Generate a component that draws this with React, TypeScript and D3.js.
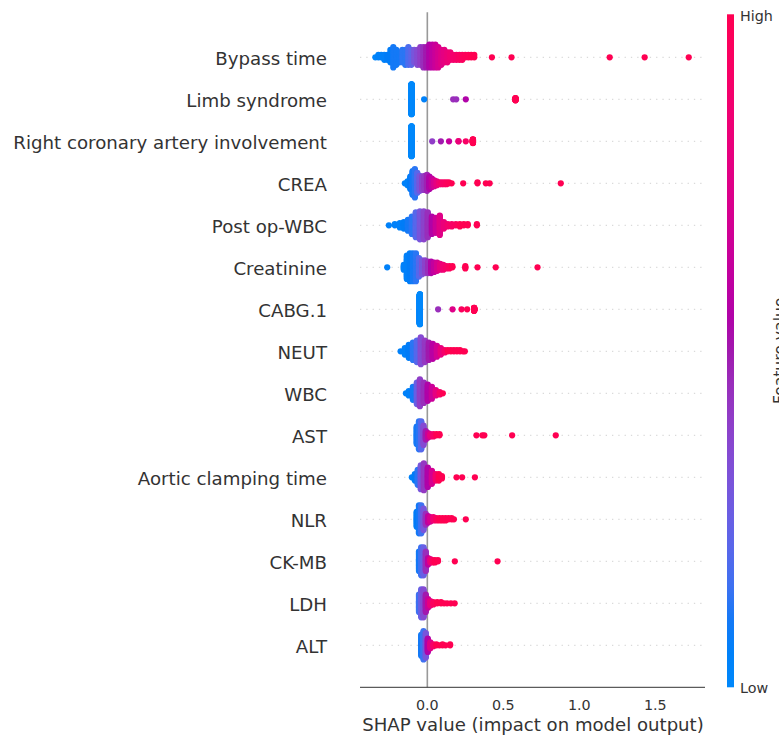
import React from "react";
import * as d3 from "d3";

// Feature names (top to bottom)
const features = [
  "Bypass time",
  "Limb syndrome",
  "Right coronary artery involvement",
  "CREA",
  "Post op-WBC",
  "Creatinine",
  "CABG.1",
  "NEUT",
  "WBC",
  "AST",
  "Aortic clamping time",
  "NLR",
  "CK-MB",
  "LDH",
  "ALT",
];

// Each entry: [SHAP value, number of samples at that value, normalized feature value 0..1]
const bypassTime: [number, number, number][] = [
  [-0.342, 1, 0.02], [-0.322, 2, 0.05], [-0.303, 2, 0.05], [-0.283, 3, 0.05],
  [-0.263, 3, 0.08], [-0.243, 6, 0.08], [-0.224, 9, 0.1], [-0.204, 7, 0.1],
  [-0.184, 5, 0.1], [-0.164, 6, 0.12], [-0.145, 7, 0.12], [-0.125, 8, 0.18],
  [-0.105, 7, 0.22], [-0.086, 6, 0.3], [-0.066, 7, 0.35], [-0.046, 8, 0.4],
  [-0.026, 9, 0.45], [-0.007, 9, 0.5], [0.013, 10, 0.55], [0.033, 10, 0.6],
  [0.053, 10, 0.65], [0.072, 9, 0.7], [0.092, 7, 0.75], [0.112, 6, 0.78],
  [0.132, 5, 0.82], [0.151, 4, 0.85], [0.171, 3, 0.88], [0.191, 3, 0.9],
  [0.211, 3, 0.93], [0.23, 3, 0.95], [0.25, 2, 0.97], [0.27, 2, 0.98],
  [0.289, 2, 1], [0.309, 2, 1], [0.425, 1, 1], [0.554, 1, 1],
  [1.2, 1, 1], [1.43, 1, 1], [1.72, 1, 1],
];
const limbSyndrome: [number, number, number][] = [
  [-0.104, 240, 0.0], [-0.021, 1, 0.05], [0.17, 1, 0.45], [0.19, 1, 0.45],
  [0.253, 1, 0.55], [0.58, 18, 1],
];
const rightCoronary: [number, number, number][] = [
  [-0.104, 230, 0.0], [0.032, 1, 0.4], [0.089, 1, 0.5], [0.143, 1, 0.62],
  [0.205, 2, 0.82], [0.253, 1, 0.92], [0.3, 30, 1],
];
const crea: [number, number, number][] = [
  [-0.148, 1, 0.05], [-0.13, 5, 0.05], [-0.112, 14, 0.08], [-0.097, 26, 0.1],
  [-0.082, 31, 0.12], [-0.066, 22, 0.2], [-0.05, 17, 0.3], [-0.034, 15, 0.38],
  [-0.018, 16, 0.42], [-0.002, 18, 0.48], [0.014, 14, 0.55], [0.03, 10, 0.62],
  [0.046, 7, 0.7], [0.062, 5, 0.78], [0.078, 3, 0.85], [0.094, 3, 0.9],
  [0.11, 3, 0.92], [0.126, 3, 0.95], [0.142, 2, 0.97], [0.16, 1, 1],
  [0.236, 1, 1], [0.33, 2, 1], [0.385, 1, 1], [0.41, 1, 1], [0.878, 1, 1],
];
const postOpWbc: [number, number, number][] = [
  [-0.253, 1, 0.05], [-0.214, 2, 0.05], [-0.181, 5, 0.05], [-0.155, 7, 0.08],
  [-0.128, 11, 0.1], [-0.102, 17, 0.12], [-0.076, 24, 0.2], [-0.049, 27, 0.3],
  [-0.023, 27, 0.38], [0.003, 24, 0.45], [0.03, 17, 0.55], [0.056, 15, 0.65],
  [0.082, 19, 0.75], [0.109, 7, 0.82], [0.135, 3, 0.88], [0.161, 3, 0.92],
  [0.188, 2, 0.95], [0.214, 3, 1], [0.24, 2, 1], [0.266, 2, 1], [0.326, 2, 1],
];
const creatinine: [number, number, number][] = [
  [-0.264, 1, 0.05], [-0.155, 5, 0.05], [-0.135, 21, 0.05], [-0.115, 25, 0.08],
  [-0.095, 25, 0.1], [-0.075, 25, 0.12], [-0.055, 17, 0.2], [-0.035, 13, 0.3],
  [-0.015, 12, 0.38], [0.005, 11, 0.45], [0.025, 11, 0.55], [0.045, 9, 0.62],
  [0.065, 8, 0.7], [0.085, 6, 0.78], [0.105, 5, 0.85], [0.125, 3, 0.9],
  [0.145, 3, 0.95], [0.165, 2, 1], [0.25, 3, 1], [0.33, 1, 1], [0.45, 1, 1],
  [0.725, 1, 1],
];
const cabg1: [number, number, number][] = [
  [-0.049, 230, 0.0], [0.071, 1, 0.45], [0.166, 1, 0.75], [0.225, 1, 0.95],
  [0.262, 1, 1], [0.308, 25, 1],
];
const neut: [number, number, number][] = [
  [-0.176, 1, 0.05], [-0.148, 7, 0.05], [-0.122, 13, 0.08], [-0.095, 17, 0.12],
  [-0.069, 21, 0.2], [-0.043, 26, 0.35], [-0.016, 21, 0.42], [0.01, 17, 0.5],
  [0.036, 15, 0.58], [0.063, 11, 0.68], [0.089, 7, 0.8], [0.115, 3, 0.9],
  [0.135, 2, 1], [0.155, 2, 1], [0.175, 2, 1], [0.195, 2, 1], [0.215, 2, 1],
  [0.235, 1, 1], [0.247, 1, 1],
];
const wbc: [number, number, number][] = [
  [-0.141, 1, 0.05], [-0.122, 5, 0.05], [-0.095, 13, 0.1], [-0.069, 21, 0.25],
  [-0.049, 26, 0.4], [-0.023, 20, 0.45], [0.003, 16, 0.55], [0.03, 12, 0.65],
  [0.056, 6, 0.78], [0.082, 3, 0.9], [0.102, 1, 1],
];
const ast: [number, number, number][] = [
  [-0.07, 17, 0.1], [-0.055, 27, 0.12], [-0.04, 27, 0.2], [-0.025, 19, 0.35],
  [-0.01, 9, 0.5], [0.005, 5, 0.65], [0.02, 3, 0.8], [0.04, 3, 0.9],
  [0.06, 2, 1], [0.08, 2, 1], [0.323, 1, 1], [0.362, 1, 1], [0.375, 1, 1],
  [0.558, 1, 1], [0.845, 1, 1],
];
const aorticClamping: [number, number, number][] = [
  [-0.102, 1, 0.05], [-0.082, 7, 0.08], [-0.063, 15, 0.12], [-0.043, 23, 0.3],
  [-0.023, 26, 0.42], [0.003, 19, 0.55], [0.03, 13, 0.7], [0.056, 7, 0.88],
  [0.076, 7, 1], [0.096, 3, 1], [0.192, 1, 1], [0.229, 1, 1], [0.313, 1, 1],
];
const nlr: [number, number, number][] = [
  [-0.07, 15, 0.08], [-0.055, 27, 0.1], [-0.04, 27, 0.15], [-0.025, 21, 0.3],
  [-0.01, 11, 0.45], [0.005, 7, 0.6], [0.02, 5, 0.7], [0.04, 4, 0.85],
  [0.06, 3, 0.95], [0.08, 3, 1], [0.1, 3, 1], [0.12, 3, 1], [0.14, 2, 1],
  [0.16, 2, 1], [0.175, 1, 1], [0.253, 1, 1],
];
const ckmb: [number, number, number][] = [
  [-0.055, 19, 0.1], [-0.04, 27, 0.15], [-0.025, 27, 0.25], [-0.01, 19, 0.45],
  [0.005, 7, 0.6], [0.02, 4, 0.8], [0.035, 3, 0.95], [0.05, 3, 1],
  [0.07, 2, 1], [0.181, 1, 1], [0.462, 1, 1],
];
const ldh: [number, number, number][] = [
  [-0.055, 17, 0.15], [-0.04, 27, 0.25], [-0.025, 27, 0.35], [-0.01, 17, 0.5],
  [0.005, 9, 0.65], [0.02, 5, 0.8], [0.04, 3, 0.95], [0.065, 2, 1],
  [0.09, 2, 1], [0.11, 1, 1], [0.13, 1, 1], [0.155, 1, 1], [0.18, 1, 1],
];
const alt: [number, number, number][] = [
  [-0.04, 23, 0.1], [-0.025, 31, 0.15], [-0.01, 27, 0.3], [0.003, 15, 0.55],
  [0.02, 7, 0.75], [0.04, 3, 0.9], [0.06, 2, 1], [0.08, 1, 1], [0.1, 2, 1],
  [0.12, 1, 1], [0.15, 2, 1],
];

const featureData = [
  bypassTime, limbSyndrome, rightCoronary, crea, postOpWbc, creatinine, cabg1,
  neut, wbc, ast, aorticClamping, nlr, ckmb, ldh, alt,
];

const xTicks = [0, 0.5, 1.0, 1.5];
const xDomain = [-0.443, 1.827];
const axisTitle = "SHAP value (impact on model output)";
const colorbarLabel = "Feature value";

// SHAP red_blue colormap (LCH interpolation)
function shapColor(t: number): string {
  const l = t < 0.5 ? 54 + (40 - 54) * (t / 0.5) : 40 + (54 - 40) * ((t - 0.5) / 0.5);
  const c = 70 + 20 * t;
  const h = 266.93 + (380.32 - 266.93) * t;
  return d3.lch(l, c, h).formatHex();
}

export default function App() {
  const W = 779;
  const H = 736;
  const font = "DejaVu Sans";
  const x = d3.scaleLinear().domain(xDomain).range([360, 705]);
  const n = features.length;
  const y = d3.scaleLinear().domain([-1, n]).range([687.3, 15.3]);
  const rowPx = Math.abs(y(0) - y(1));

  const points: { cx: number; cy: number; fill: string; key: string }[] = [];
  featureData.forEach((rows, i) => {
    const pos = n - 1 - i;
    const cy0 = y(pos);
    const maxOff = d3.max(rows, (r) => Math.ceil((r[1] - 1) / 2)) ?? 0;
    const step = (0.9 * 0.4 * rowPx) / (maxOff + 1);
    const sorted = [...rows].sort((a, b) => a[0] - b[0]);
    sorted.forEach((r, j) => {
      const [v, count, fv] = r;
      for (let k = 0; k < count; k++) {
        const off = Math.ceil(k / 2) * ((k % 2) * 2 - 1);
        points.push({
          cx: x(v),
          cy: cy0 - off * step,
          fill: shapColor(fv),
          key: `${i}-${j}-${k}`,
        });
      }
    });
  });

  const gradStops = d3.range(0, 1.0001, 0.05);
  const cbX = 727;
  const cbW = 7;
  const cbTop = y(n) - 1;
  const cbBot = y(-1);

  return (
    <svg
      width={W}
      height={H}
      style={{ position: "absolute", left: 0, top: 0, background: "#fff" }}
      fontFamily={font}
    >
      <defs>
        <linearGradient id="cbgrad" x1="0" y1="1" x2="0" y2="0">
          {gradStops.map((t) => (
            <stop key={t} offset={t} stopColor={shapColor(t)} />
          ))}
        </linearGradient>
      </defs>
      {/* grid dotted lines */}
      {features.map((f, i) => (
        <line
          key={f}
          x1={x(xDomain[0])}
          x2={x(xDomain[1])}
          y1={y(n - 1 - i)}
          y2={y(n - 1 - i)}
          stroke="#cccccc"
          strokeWidth={0.9}
          strokeDasharray="1.3,5"
        />
      ))}
      {/* zero line */}
      <line x1={x(0)} x2={x(0)} y1={y(n) - 3} y2={y(-1)} stroke="#999999" strokeWidth={1.6} />
      {/* points */}
      {points.map((p) => (
        <circle key={p.key} cx={p.cx} cy={p.cy} r={3.1} fill={p.fill} />
      ))}
      {/* feature labels */}
      {features.map((f, i) => (
        <text
          key={f}
          x={327}
          y={y(n - 1 - i) + 1}
          dy="0.36em"
          textAnchor="end"
          fontSize={18.2}
          fill="#333333"
        >
          {f}
        </text>
      ))}
      {/* x axis */}
      <line x1={x(xDomain[0])} x2={x(xDomain[1])} y1={y(-1)} y2={y(-1)} stroke="#333333" strokeWidth={1} />
      {xTicks.map((t) => (
        <text key={t} x={x(t)} y={710} textAnchor="middle" fontSize={14.3} fill="#333333">
          {d3.format(".1f")(t)}
        </text>
      ))}
      <text x={(x(xDomain[0]) + x(xDomain[1])) / 2 + 0.5} y={731} textAnchor="middle" fontSize={18.1} fill="#333333">
        {axisTitle}
      </text>
      {/* colorbar */}
      <rect x={cbX} y={cbTop} width={cbW} height={cbBot - cbTop} fill="url(#cbgrad)" />
      <text x={740} y={cbTop + 2} dy="0.36em" fontSize={14.3} fill="#333333">High</text>
      <text x={740} y={cbBot + 1} dy="0.36em" fontSize={14.3} fill="#333333">Low</text>
      <text
        transform={`translate(${773},${(cbTop + cbBot) / 2}) rotate(-90)`}
        textAnchor="middle"
        dy="0.75em"
        fontSize={15.6}
        fill="#333333"
      >
        {colorbarLabel}
      </text>
    </svg>
  );
}
